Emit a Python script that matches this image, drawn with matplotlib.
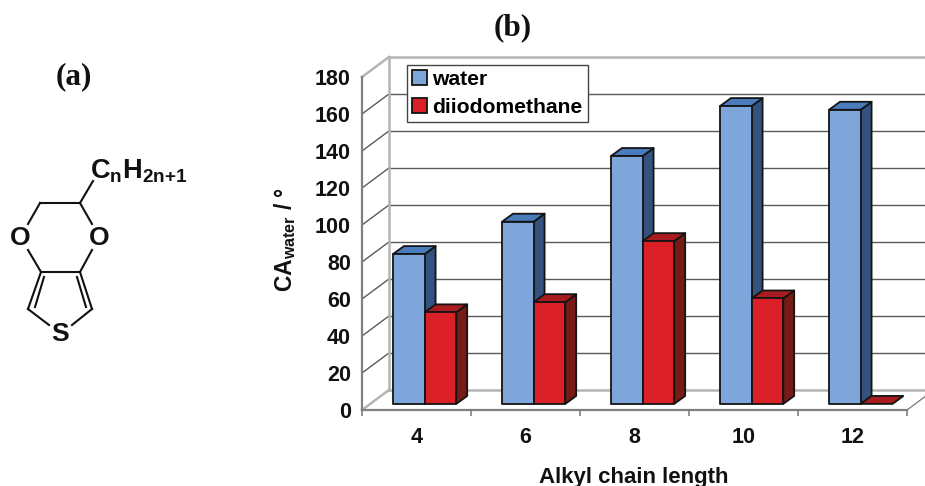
import matplotlib
matplotlib.use("Agg")
import matplotlib.pyplot as plt
from matplotlib.patches import Patch, Polygon

plt.rcParams['font.family'] = ['Liberation Sans', 'DejaVu Sans']
plt.rcParams['font.weight'] = 'bold'
plt.rcParams['mathtext.fontset'] = 'custom'
plt.rcParams['mathtext.rm'] = 'Liberation Sans:bold'
plt.rcParams['mathtext.bf'] = 'Liberation Sans:bold'

chain_length = ['4', '6', '8', '10', '12']
water = [81, 98.5, 134, 161, 159]
diiodomethane = [49.5, 55, 88, 57, 0]
y_ticks = [0, 20, 40, 60, 80, 100, 120, 140, 160, 180]

# face, side, top colours of the fake 3D boxes
water_colors = ('#7EA6DA', '#34527F', '#4A7CBD')
red_colors = ('#DB1F26', '#761C17', '#A81C1F')

W, H = 925, 486
# wall and box depth, in axis units (x = categories, y = degrees)
wall_dx, wall_dy = 0.248, 10.85
box_dx, box_dy = 0.1, 4.3
floor_dy = 3.3
gap, bar_w = 0.285, 0.29

fig = plt.figure(figsize=(W / 100, H / 100), dpi=100)
ax = fig.add_axes([362 / W, 1 - 410 / H, 545 / W, 333 / H])
ax.set_xlim(0, 5)
ax.set_ylim(0, 180)
ax.patch.set_visible(False)


def draw_box(x, value, colors):
    x0, x1 = x, x + bar_w
    y0 = floor_dy
    y1 = floor_dy + value
    face, side, top = colors
    kw = dict(edgecolor='#141414', linewidth=1.3, joinstyle='round', clip_on=False, zorder=3)
    ax.add_patch(Polygon([(x1, y0), (x1 + box_dx, y0 + box_dy), (x1 + box_dx, y1 + box_dy), (x1, y1)],
                         facecolor=side, **kw))
    ax.add_patch(Polygon([(x0, y1), (x1, y1), (x1 + box_dx, y1 + box_dy), (x0 + box_dx, y1 + box_dy)],
                         facecolor=top, **kw))
    if value > 0:
        ax.add_patch(Polygon([(x0, y0), (x1, y0), (x1, y1), (x0, y1)], facecolor=face, **kw))


# back wall, side wall and floor
for v in y_ticks:
    light = v in (0, 180)
    color = '#B4B4B4' if light else '#5A5A5A'
    lw = 1.8 if light else 1.0
    ax.plot([wall_dx, 5.4], [v + wall_dy] * 2, color=color, lw=lw, clip_on=False, zorder=1)
    ax.plot([0, wall_dx], [v, v + wall_dy], color=color, lw=lw, clip_on=False, zorder=1)
ax.plot([wall_dx, wall_dx], [wall_dy, 180 + wall_dy], color='#B4B4B4', lw=1.8, clip_on=False, zorder=1)
ax.plot([5, 5 + wall_dx], [0, wall_dy], color='#777777', lw=0.9, clip_on=False, zorder=1)

for i in range(len(chain_length)):
    draw_box(i + gap, water[i], water_colors)
    draw_box(i + gap + bar_w, diiodomethane[i], red_colors)

for s in ('top', 'right'):
    ax.spines[s].set_visible(False)
for s in ('left', 'bottom'):
    ax.spines[s].set_color('#808080')
    ax.spines[s].set_linewidth(1.6)

ax.set_yticks(y_ticks)
ax.set_xticks(range(6))
ax.set_xticklabels([])
ax.set_xticks([i + 0.5 for i in range(5)], labels=chain_length, minor=True)
ax.tick_params(axis='x', which='major', length=4, width=1.2, color='#808080')
ax.tick_params(axis='x', which='minor', length=0, pad=12, labelsize=15.5)
ax.tick_params(axis='y', length=0, pad=8, labelsize=15.5)
for lab in ax.get_xticklabels(minor=True) + ax.get_yticklabels():
    lab.set_fontweight('bold')
    lab.set_color('#111111')

handles = [Patch(facecolor=water_colors[0], edgecolor='#141414', linewidth=1.3, label='water'),
           Patch(facecolor=red_colors[0], edgecolor='#141414', linewidth=1.3, label='diiodomethane')]
leg = ax.legend(handles=handles, loc='upper left', bbox_to_anchor=(407 / W, 1 - 65 / H),
                bbox_transform=fig.transFigure, fontsize=15.2, fancybox=False, framealpha=1,
                edgecolor='#444444', borderaxespad=0, borderpad=0.25, handlelength=0.72,
                handleheight=0.72, handletextpad=0.22, labelspacing=0.42)
leg.get_frame().set_linewidth(1.0)
leg.set_zorder(5)

# overlay in pixel coordinates for labels and the molecule
over = fig.add_axes([0, 0, 1, 1])
over.set_xlim(0, W)
over.set_ylim(H, 0)
over.axis('off')
over.patch.set_visible(False)

over.text(513, 28, '(b)', family='Liberation Serif', fontsize=22.5, ha='center', va='center', color='#111111')
over.text(74, 77, '(a)', family='Liberation Serif', fontsize=22.5, ha='center', va='center', color='#111111')
over.text(285, 240, r'CA$_{\mathbf{water}}$ / °', rotation=90, fontsize=16.5, ha='center', va='center', color='#111111')
over.text(634, 477, 'Alkyl chain length', fontsize=16, ha='center', va='center', color='#111111')

bonds = [((40, 203), (80, 203)), ((40, 203), (28, 224)), ((80, 203), (92, 224)), ((80, 203), (93, 181)),
         ((28, 250), (41, 272)), ((92, 250), (80, 272)), ((41, 272), (80, 272)),
         ((41, 272), (28, 309)), ((44, 277), (35, 307)), ((80, 272), (92, 309)), ((77, 277), (86, 307)),
         ((28, 309), (49, 325)), ((92, 309), (72, 325))]
for a, b in bonds:
    over.plot([a[0], b[0]], [a[1], b[1]], color='#111111', lw=1.5)
over.text(20, 238, 'O', fontsize=19, ha='center', va='center', color='#111111')
over.text(99, 238, 'O', fontsize=19, ha='center', va='center', color='#111111')
over.text(60, 334, 'S', fontsize=19, ha='center', va='center', color='#111111')
over.text(90, 171, r'C$_{\mathbf{n}}$H$_{\mathbf{2n{+}1}}$', fontsize=19.6, ha='left', va='center', color='#111111')

fig.savefig('out.png', dpi=100)
